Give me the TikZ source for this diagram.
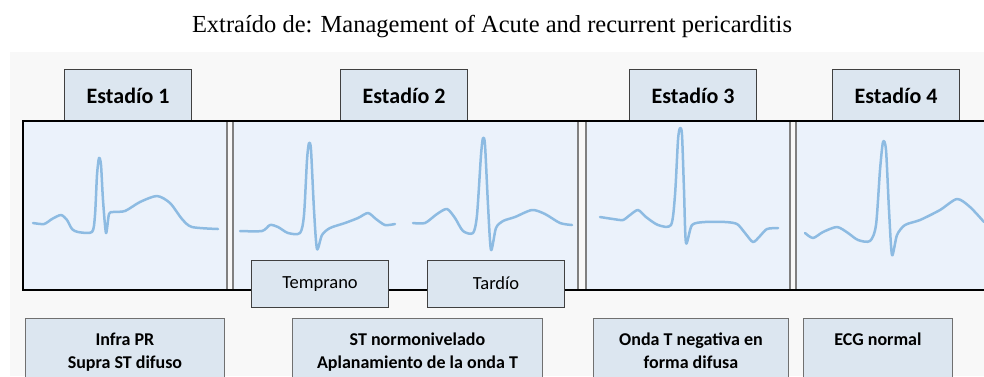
\documentclass[tikz,border=0pt]{standalone}
\usepackage{fontspec}
\setmainfont{Liberation Serif}
\newfontfamily\carlito{Carlito}
\definecolor{bgc}{HTML}{F8F8F8}
\definecolor{panelc}{HTML}{EBF2FB}
\definecolor{tabfill}{HTML}{DCE6F0}
\definecolor{tabline}{HTML}{404040}
\definecolor{sepc}{HTML}{808080}
\definecolor{ecgc}{HTML}{8DBBE2}
\definecolor{boxline}{HTML}{707070}
\tikzset{
  tabbox/.style={draw=tabline, fill=tabfill, line width=1.1pt, minimum width=127pt, minimum height=52pt, inner sep=0pt, anchor=north west, font=\carlito\fontsize{22}{26}\selectfont\bfseries},
  subbox/.style={draw=tabline, fill=tabfill, line width=1pt, minimum height=47pt, inner sep=0pt, anchor=north west, font=\carlito\fontsize{18.5}{22}\selectfont},
  infobox/.style={draw=boxline, fill=tabfill, line width=0.9pt, minimum height=70pt, inner sep=0pt, anchor=north west},
  infotxt/.style={anchor=north, align=center, inner sep=0pt, font=\carlito\fontsize{18}{23}\selectfont\bfseries},
  panel/.style={fill=panelc, draw=none},
  sepline/.style={draw=sepc, line width=1.8pt},
  frameline/.style={draw=black, line width=2pt},
  ecg/.style={draw=ecgc, line width=2.5pt, line cap=round, line join=round}
}
\begin{document}
\begin{tikzpicture}[x=1pt,y=-1pt]
\useasboundingbox (0,0) rectangle (984,376);
% background
\fill[bgc] (10,52) rectangle (984,376);
% panels
\fill[panel] (23,121) rectangle (227,290);
\fill[panel] (233,121) rectangle (578,290);
\fill[panel] (586,121) rectangle (790,290);
\fill[panel] (796,121) rectangle (984,290);
% separators
\draw[sepline] (227,121) -- (227,290);
\draw[sepline] (233,121) -- (233,290);
\draw[sepline] (578,121) -- (578,290);
\draw[sepline] (586,121) -- (586,290);
\draw[sepline] (790,121) -- (790,290);
\draw[sepline] (796,121) -- (796,290);
% tabs
\node[tabbox] (t1) at (64,69) {Estadío 1};
\node[tabbox] (t2) at (340,69) {Estadío 2};
\node[tabbox] (t3) at (629,69) {Estadío 3};
\node[tabbox] (t4) at (832,69) {Estadío 4};
% frame
\draw[frameline] (984,121) -- (23,121) -- (23,290) -- (984,290);
% ECG curves
\draw[ecg] plot[smooth, tension=0.45] coordinates {(33,223) (44,224) (52,219) (61,215) (67,220) (72,229) (78,232) (92,232) (95,215) (97,175) (99,158) (101,165) (103,200) (106,233) (109,214) (113,212) (125,211) (140,202) (157,196) (170,203) (182,219) (192,227) (218,229)};
\draw[ecg] plot[smooth, tension=0.45] coordinates {(240,231) (262,231) (270,225) (278,227) (288,233) (300,233) (304,215) (307,160) (309,143) (311,150) (314,210) (317,249) (322,235) (330,228) (345,223) (358,218) (368,213) (376,219) (385,225) (395,224)};
\draw[ecg] plot[smooth, tension=0.45] coordinates {(413,223) (425,223) (437,214) (447,209) (455,218) (463,231) (473,233) (477,215) (481,155) (483,138) (485,145) (488,205) (491,250) (496,228) (503,221) (515,217) (532,210) (545,214) (560,223) (572,225)};
\draw[ecg] plot[smooth, tension=0.45] coordinates {(600,217) (613,219) (623,220) (630,215) (638,210) (646,217) (658,225) (671,225) (675,195) (678,140) (680,128) (682,135) (684,190) (686,243) (692,225) (705,222) (725,222) (737,224) (745,233) (753,242) (760,236) (767,229) (778,228)};
\draw[ecg] plot[smooth, tension=0.45] coordinates {(805,233) (813,238) (823,232) (837,227) (848,233) (858,240) (870,241) (876,225) (880,170) (883,142) (886,150) (889,210) (892,255) (897,235) (905,225) (920,220) (940,210) (957,199) (970,207) (984,222)};
% sub boxes
\node[subbox, minimum width=137pt] (temp) at (251,260) {\raisebox{1.5pt}{Temprano}};
\node[subbox, minimum width=137pt] (tard) at (427,260) {\raisebox{1.5pt}{Tardío}};
% info boxes
\node[infobox, minimum width=199pt] (b1) at (25,318) {};
\node[infobox, minimum width=250pt] (b2) at (292,318) {};
\node[infobox, minimum width=195pt] (b3) at (593,318) {};
\node[infobox, minimum width=149pt] (b4) at (803,318) {};
\node[infotxt] (b1t) at ([yshift=-15pt]b1.north) {Infra PR\\Supra ST difuso};
\node[infotxt] (b2t) at ([yshift=-15pt]b2.north) {ST normonivelado\\Aplanamiento de la onda T};
\node[infotxt] (b3t) at ([yshift=-15pt]b3.north) {Onda T negativa en\\forma difusa};
\node[infotxt] (b4t) at ([yshift=-15pt]b4.north) {ECG normal};
% title
\node[font=\fontsize{24.5}{28}\selectfont, inner sep=0pt, anchor=base] (title) at (492,32) {Extraído de: Management of Acute and recurrent pericarditis};
\end{tikzpicture}
\end{document}
